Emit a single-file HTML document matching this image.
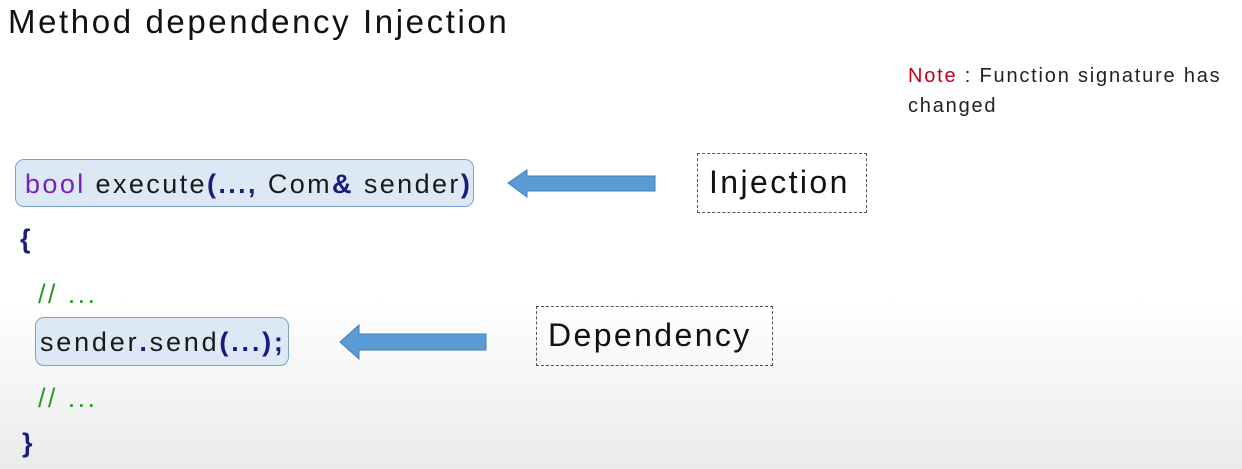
<!DOCTYPE html>
<html><head><style>
body{margin:0;width:1242px;height:469px;overflow:hidden;font-family:"Liberation Sans","DejaVu Sans",sans-serif;
background:linear-gradient(#fff 0px,#fff 300px,#ebebeb 469px);position:relative}
.a{position:absolute;white-space:nowrap}
.box{position:absolute;background:#dce9f5;border:1.5px solid #7ba3c9;border-radius:9px;box-sizing:border-box}
.code{font-size:27px;color:#1a1a1a;letter-spacing:2.4px}
.b{color:#1a1a80;font-weight:bold}
.g{color:#2a9a2a}
.dash{position:absolute;border:1.5px dashed #555;box-sizing:border-box;font-size:32px;color:#111;letter-spacing:2.4px}
</style></head><body>
<div class="a" style="left:8px;top:3px;font-size:33px;color:#111;letter-spacing:2.6px">Method dependency Injection</div>
<div class="a" style="left:908px;top:61px;font-size:20px;line-height:30px;color:#222;letter-spacing:1.8px"><span style="color:#c00018">Note</span> : Function signature has<br>changed</div>

<div class="box" style="left:15px;top:159px;width:459px;height:48px"></div>
<div class="a code" style="left:25px;top:169px"><span style="color:#7a1fc0">bool</span> execute<span class="b">(...,</span> Com<span class="b">&amp;</span> sender<span class="b">)</span></div>
<div class="a code b" style="left:20px;top:224px">{</div>
<div class="a code g" style="left:38px;top:279px">// ...</div>
<div class="box" style="left:35px;top:317px;width:254px;height:49px"></div>
<div class="a code" style="left:40px;top:327px;letter-spacing:2.8px">sender<span class="b">.</span>send<span class="b">(...);</span></div>
<div class="a code g" style="left:38px;top:383px">// ...</div>
<div class="a code b" style="left:22px;top:428px">}</div>

<svg class="a" style="left:0;top:0" width="1242" height="469">
<polygon points="508,183 527,170 527,176 655,176 655,191 527,191 527,197" fill="#5b9bd5" stroke="#4a7fb0" stroke-width="1"/>
<polygon points="340,342 359,325 359,334 486,334 486,350 359,350 359,359" fill="#5b9bd5" stroke="#4a7fb0" stroke-width="1"/>
</svg>

<div class="dash" style="left:697px;top:153px;width:170px;height:60px;padding:10px 0 0 11px">Injection</div>
<div class="dash" style="left:536px;top:306px;width:237px;height:60px;padding:10px 0 0 11px">Dependency</div>
</body></html>
